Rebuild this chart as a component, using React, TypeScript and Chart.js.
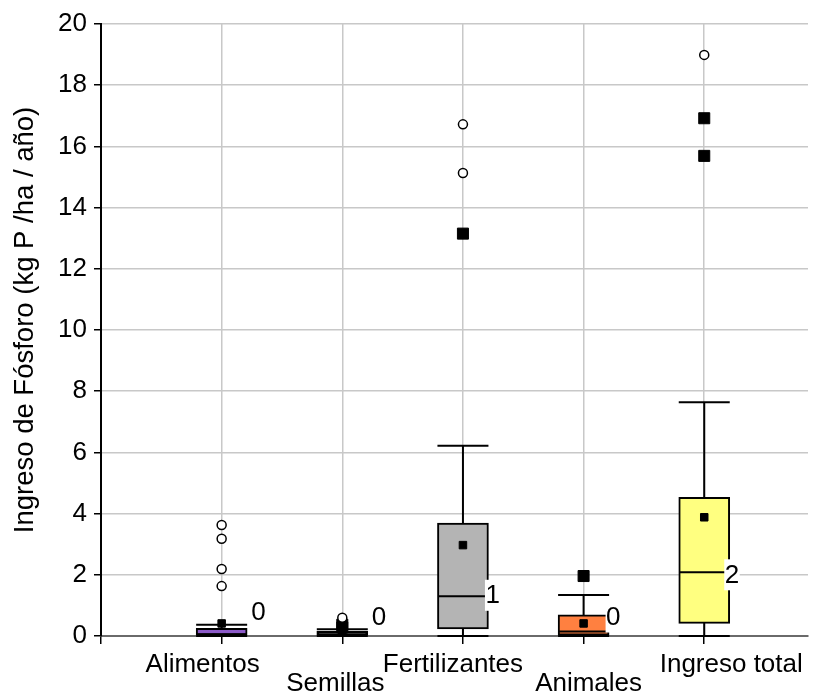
import { useEffect, useRef } from 'react';
import { Chart, registerables } from 'chart.js';

Chart.register(...registerables);

// ---- data ----
const categories = ['Alimentos', 'Semillas', 'Fertilizantes', 'Animales', 'Ingreso total'];
const whiskerLow = [0, 0, 0, 0, 0];
const q1 = [0.03, 0, 0.23, 0.03, 0.41];
const median = [0.06, 0.03, 1.3, 0.15, 2.08];
const q3 = [0.25, 0.15, 3.69, 0.69, 4.53];
const whiskerHigh = [0.37, 0.22, 6.22, 1.34, 7.64];
const means = [0.41, 0.08, 2.97, 0.41, 3.88];
const outliersCircle = [[1.63, 2.19, 3.18, 3.63], [0.6], [15.13, 16.72], [], [18.99]];
const outliersSquare = [[], [0.28, 0.37], [13.15], [1.96], [15.69, 16.92]];
const boxLabels = ['0', '0', '1', '0', '2'];
const boxLabelValue = [0.78, 0.62, 1.33, 0.62, 2.0];
const yMin = 0;
const yMax = 20;
const yStep = 2;
const yTitle = 'Ingreso de Fósforo (kg P /ha / año)';

// ---- styles ----
const boxColors = ['#8c5ac8', '#000000', '#b4b4b4', '#ff8040', '#ffff80'];
const xLabelShift = [-19, -7, -10, 5, 27];
const boxLabelShift = [29, 29, 22, 22, 20];
const FONT = "'Liberation Sans', Arial, sans-serif";

const pos = (i: number) => i + 1;

const labelsPlugin = {
  id: 'customLabels',
  afterDraw(chart: any) {
    const { ctx, chartArea, scales } = chart;
    const xs = scales.x;
    const ys = scales.y;
    ctx.save();
    ctx.fillStyle = '#000';
    // y axis title
    ctx.save();
    ctx.font = `27.5px ${FONT}`;
    ctx.translate(25.5, (chartArea.top + chartArea.bottom) / 2 - 10);
    ctx.rotate(-Math.PI / 2);
    ctx.textAlign = 'center';
    ctx.textBaseline = 'middle';
    ctx.fillText(yTitle, 0, 0);
    ctx.restore();

    ctx.font = `26px ${FONT}`;
    // category labels (staggered)
    ctx.textAlign = 'center';
    ctx.textBaseline = 'alphabetic';
    categories.forEach((c, i) => {
      const x = xs.getPixelForValue(pos(i)) + xLabelShift[i];
      const y = chartArea.bottom + (i % 2 === 0 ? 35.5 : 55);
      ctx.fillText(c, x, y);
    });
    // box value labels
    ctx.textAlign = 'left';
    ctx.textBaseline = 'middle';
    boxLabels.forEach((t, i) => {
      const x = xs.getPixelForValue(pos(i)) + boxLabelShift[i];
      const y = ys.getPixelForValue(boxLabelValue[i]);
      const w = ctx.measureText(t).width;
      ctx.fillStyle = '#fff';
      ctx.fillRect(x, y - 15.5, w + 1, 31);
      ctx.fillStyle = '#000';
      ctx.fillText(t, x + 0.5, y + 1);
    });
    ctx.restore();
  },
};

const zeroPad = (s: any) => {
  s.paddingTop = 0;
  s.paddingBottom = 0;
  s.paddingLeft = 0;
  s.paddingRight = 0;
};

export default function App() {
  const ref = useRef<HTMLCanvasElement | null>(null);

  useEffect(() => {
    if (!ref.current) return;

    const whiskerSets = categories.map((_, i) => ({
      type: 'scatter' as const,
      data: [
        { x: pos(i), y: whiskerLow[i] },
        { x: pos(i), y: whiskerHigh[i] },
      ],
      showLine: true,
      borderColor: '#000',
      borderWidth: 2,
      pointRadius: 0,
      order: 20,
    }));

    const capPoints: { x: number; y: number }[] = [];
    categories.forEach((_, i) => {
      capPoints.push({ x: pos(i), y: whiskerLow[i] });
      capPoints.push({ x: pos(i), y: whiskerHigh[i] });
    });

    const sqPoints: { x: number; y: number }[] = [];
    const circPoints: { x: number; y: number }[] = [];
    categories.forEach((_, i) => {
      outliersSquare[i].forEach((v) => sqPoints.push({ x: pos(i), y: v }));
      outliersCircle[i].forEach((v) => circPoints.push({ x: pos(i), y: v }));
    });

    const chart = new Chart(ref.current, {
      type: 'bar',
      data: {
        datasets: [
          ...whiskerSets,
          {
            type: 'bar' as const,
            data: categories.map((_, i) => ({ x: pos(i), y: [q1[i], q3[i]] })) as any,
            backgroundColor: boxColors,
            borderColor: '#000',
            borderWidth: 2,
            borderSkipped: false,
            barThickness: 51,
            order: 15,
          },
          {
            type: 'scatter' as const,
            data: capPoints,
            pointStyle: 'line',
            pointRadius: 25.5,
            borderColor: '#000',
            borderWidth: 2,
            clip: false,
            order: 12,
          },
          {
            type: 'scatter' as const,
            data: categories.map((_, i) => ({ x: pos(i), y: median[i] })),
            pointStyle: 'line',
            pointRadius: 24.5,
            borderColor: '#000',
            borderWidth: 2,
            order: 10,
          },
          {
            type: 'scatter' as const,
            data: categories.map((_, i) => ({ x: pos(i), y: means[i] })),
            pointStyle: 'rect',
            pointRadius: 5.3,
            backgroundColor: '#000',
            borderColor: '#000',
            borderWidth: 1,
            order: 3,
          },
          {
            type: 'scatter' as const,
            data: sqPoints,
            pointStyle: 'rect',
            pointRadius: 7.8,
            backgroundColor: '#000',
            borderColor: '#000',
            borderWidth: 1,
            order: 2,
          },
          {
            type: 'scatter' as const,
            data: circPoints,
            pointStyle: 'circle',
            pointRadius: 4.5,
            backgroundColor: '#fff',
            borderColor: '#000',
            borderWidth: 1.5,
            order: 1,
          },
        ] as any,
      },
      options: {
        responsive: false,
        animation: false,
        events: [],
        layout: { autoPadding: false, padding: { top: 24, right: 10, left: 0, bottom: 0 } },
        plugins: {
          legend: { display: false },
          tooltip: { enabled: false },
        },
        scales: {
          x: {
            type: 'linear',
            min: 0,
            max: 5.86,
            offset: false,
            afterFit: (s: any) => {
              s.height = 56;
              zeroPad(s);
            },
            ticks: { display: false, stepSize: 1, includeBounds: false },
            grid: {
              offset: false,
              color: '#c8c8c8',
              lineWidth: 1.5,
              tickColor: '#000',
              tickLength: 8,
              drawTicks: true,
            },
            border: { display: true, color: '#6a6a6a', width: 2 },
          },
          y: {
            type: 'linear',
            min: yMin,
            max: yMax,
            afterFit: (s: any) => {
              s.width = 101;
              zeroPad(s);
            },
            ticks: {
              stepSize: yStep,
              color: '#000',
              padding: 7,
              font: { family: FONT, size: 26 },
            },
            grid: {
              color: '#c8c8c8',
              lineWidth: 1.5,
              tickColor: '#000',
              tickLength: 7,
            },
            border: { display: true, color: '#000', width: 2 },
            title: { display: false },
          },
        },
      } as any,
      plugins: [labelsPlugin],
    });

    return () => chart.destroy();
  }, []);

  return (
    <div style={{ position: 'absolute', left: 0, top: 0, width: 818, height: 692, background: '#fff' }}>
      <canvas ref={ref} width={818} height={692} />
    </div>
  );
}
